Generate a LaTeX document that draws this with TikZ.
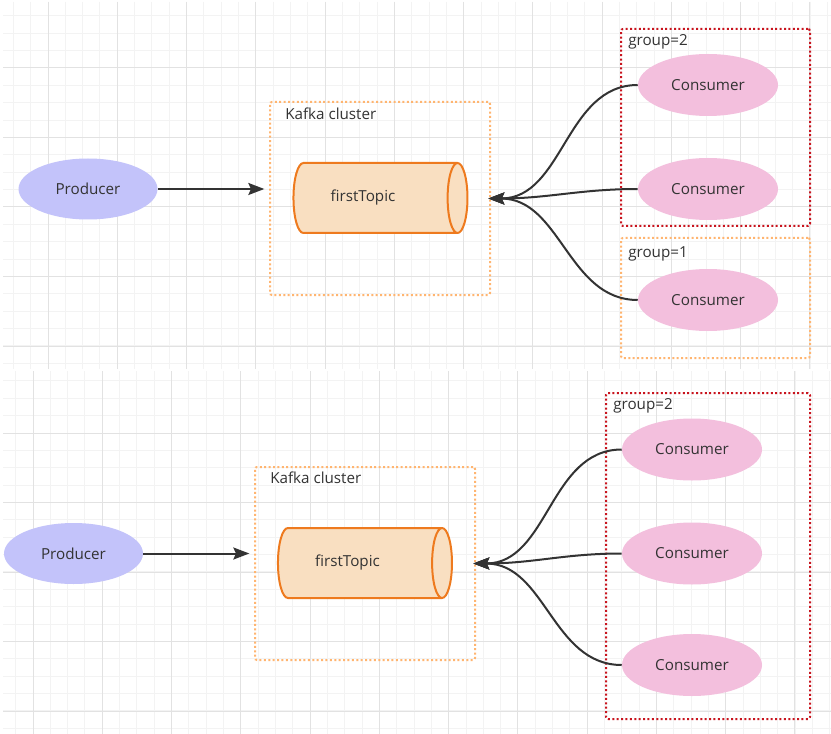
\documentclass[tikz,border=0pt]{standalone}
\usepackage{fontspec}
\setmainfont{Open Sans}
\usetikzlibrary{shapes.geometric,arrows.meta}
\usepackage{xcolor}
\definecolor{prodfill}{HTML}{C3C3FA}
\definecolor{consfill}{HTML}{F3BFDD}
\definecolor{topicfill}{HTML}{F9DFC1}
\definecolor{topicline}{HTML}{EE7A1E}
\definecolor{clusterline}{HTML}{FFB570}
\definecolor{groupred}{HTML}{C8141E}
\definecolor{textgray}{HTML}{333333}
\definecolor{gridminor}{HTML}{F3F3F3}
\definecolor{gridmajor}{HTML}{E2E2E2}

\tikzset{
  every node/.style={font=\fontsize{11.4}{13}\selectfont, text=textgray},
  producer/.style={ellipse, fill=prodfill, minimum width=104.25pt, minimum height=45.75pt},
  consumer/.style={ellipse, fill=consfill, minimum width=105pt, minimum height=46.5pt},
  topic/.style={cylinder, draw=topicline, line width=1.5pt, cylinder uses custom fill,
    cylinder body fill=topicfill, cylinder end fill=topicfill, aspect=1.3,
    minimum height=130.5pt, minimum width=52.5pt, inner sep=0pt},
  dotbox/.style={rectangle, line width=1.5pt, dash pattern=on 1.5pt off 1.8pt,
    rounded corners=1.5pt, inner sep=0pt},
  clusterbox/.style={dotbox, draw=clusterline},
  groupbox/.style={dotbox, draw=groupred},
  boxlabel/.style={anchor=west, inner sep=0pt},
  flow/.style={draw=textgray, line width=1.5pt, -{Stealth[length=12pt,width=9pt,inset=2pt]}},
  minorline/.style={draw=gridminor, line width=0.75pt},
  majorline/.style={draw=gridmajor, line width=0.75pt},
}

\begin{document}
\begin{tikzpicture}[x=0.75pt,y=0.75pt,yscale=-1,xscale=1]
    \useasboundingbox (0,0) rectangle (831,734);
    \fill[white] (0,0) rectangle (831,734);

    %Grid top
    \begin{scope}
    \clip (3,2) rectangle (831,369);
    \foreach \k in {-3,...,45} \draw[minorline] (48+17.32*\k,2) -- ++(0,367);
    \foreach \k in {-4,...,17} \draw[minorline] (3,68+17.37*\k) -- ++(828,0);
    \foreach \k in {-1,...,11} \draw[majorline] (48+69.27*\k,2) -- ++(0,367);
    \foreach \k in {-1,...,4} \draw[majorline] (3,68+69.5*\k) -- ++(828,0);
    \end{scope}
    %Grid bottom
    \begin{scope}
    \clip (3,371) rectangle (831,734);
    \foreach \k in {-2,...,46} \draw[minorline] (33+17.32*\k,371) -- ++(0,363);
    \foreach \k in {-4,...,18} \draw[minorline] (3,433+17.37*\k) -- ++(828,0);
    \foreach \k in {-1,...,12} \draw[majorline] (33+69.27*\k,371) -- ++(0,363);
    \foreach \k in {-1,...,5} \draw[majorline] (3,433+69.5*\k) -- ++(828,0);
    \end{scope}

    %Top: one consumer group of two, one of one
    % Dotted boxes
    \node[clusterbox, minimum width=165pt, minimum height=144.75pt] (clusterA) at (380,198.5) {};
    \node[groupbox, minimum width=141.75pt, minimum height=147.75pt] (groupTwoA) at (715.5,127.5) {};
    \node[clusterbox, minimum width=141.75pt, minimum height=90pt] (groupOneA) at (715.5,298) {};
    % Text Node
    \node[boxlabel] (clusterLabelA) at (285,114) {Kafka cluster};
    \node[boxlabel] (groupTwoLabelA) at (628,42) {group=2};
    \node[boxlabel] (groupOneLabelA) at (628,254) {group=1};
    % Shapes
    \node[producer] (prodA) at (88,189) {Producer};
    \node[topic] (topicA) at (375,198) {\raisebox{-2pt}{firstTopic}\hspace{18pt}\null};
    \node[consumer] (consA1) at (708,85) {Consumer};
    \node[consumer] (consA2) at (708,189) {Consumer};
    \node[consumer] (consA3) at (708,300) {Consumer};
    % Connectors
    \draw[flow, shorten >=3.5pt] (prodA.east) -- (prodA.east -| clusterA.west);
    \draw[flow, shorten >=-2pt] (consA1.west) to[out=180,in=0] (clusterA.east);
    \draw[flow, shorten >=-2pt] (consA2.west) to[out=180,in=0] (clusterA.east);
    \draw[flow, shorten >=-2pt] (consA3.west) to[out=180,in=0] (clusterA.east);

    %Bottom: one consumer group of three
    % Dotted boxes
    \node[clusterbox, minimum width=165pt, minimum height=144.75pt] (clusterB) at (365,563.5) {};
    \node[groupbox, minimum width=153pt, minimum height=244.5pt] (groupTwoB) at (708,556) {};
    % Text Node
    \node[boxlabel] (clusterLabelB) at (270,478) {Kafka cluster};
    \node[boxlabel] (groupTwoLabelB) at (613,406) {group=2};
    % Shapes
    \node[producer] (prodB) at (73.5,553.5) {Producer};
    \node[topic] (topicB) at (359.5,563) {\raisebox{-2pt}{firstTopic}\hspace{18pt}\null};
    \node[consumer] (consB1) at (692,449.5) {Consumer};
    \node[consumer] (consB2) at (692,553.5) {Consumer};
    \node[consumer] (consB3) at (692,665) {Consumer};
    % Connectors
    \draw[flow, shorten >=3.5pt] (prodB.east) -- (prodB.east -| clusterB.west);
    \draw[flow, shorten >=-2pt] (consB1.west) to[out=180,in=0] (clusterB.east);
    \draw[flow, shorten >=-2pt] (consB2.west) to[out=180,in=0] (clusterB.east);
    \draw[flow, shorten >=-2pt] (consB3.west) to[out=180,in=0] (clusterB.east);

\end{tikzpicture}
\end{document}
